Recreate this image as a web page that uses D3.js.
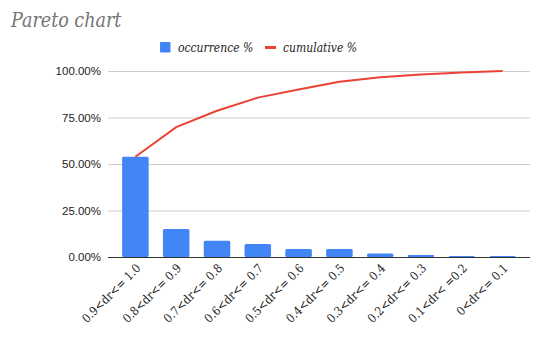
<!DOCTYPE html>
<html>
<head>
<meta charset="utf-8">
<script src="https://cdn.jsdelivr.net/npm/d3@7"></script>
<style>
  body { margin: 0; background: #fff; }
  svg { display: block; }
</style>
</head>
<body>
<div id="chart"></div>
<script>
// chart data
var categories = ['0.9<dr<= 1.0', '0.8<dr<= 0.9', '0.7<dr<= 0.8', '0.6<dr<= 0.7', '0.5<dr<= 0.6',
                  '0.4<dr<= 0.5', '0.3<dr<= 0.4', '0.2<dr<= 0.3', '0.1<dr< =0.2', '0<dr<= 0.1'];
var occurrence = [53.9, 15.0, 8.8, 7.0, 4.3, 4.3, 1.9, 1.1, 0.5, 0.5];
var cumulative = [53.9, 69.8, 78.6, 85.7, 90.0, 94.2, 96.7, 98.1, 99.2, 100];
var yTicks = [0, 25, 50, 75, 100];

var width = 550, height = 340;
var serif = '"DejaVu Serif Condensed", "DejaVu Serif", serif';
var svg = d3.select('#chart').append('svg')
    .attr('width', width)
    .attr('height', height);

var x = d3.scaleBand()
    .domain(categories)
    .range([115, 523])
    .paddingInner(0.35)
    .paddingOuter(0.175);

var y = d3.scaleLinear()
    .domain([0, 100])
    .range([257, 71]);

// title
svg.append('text')
    .attr('x', 11)
    .attr('y', 26.5)
    .style('font-family', serif)
    .style('font-style', 'italic')
    .style('font-size', '19.5px')
    .style('fill', '#757575')
    .text('Pareto chart');

// legend
var legend = svg.append('g').style('font-family', serif)
    .style('font-style', 'italic').style('font-size', '12px').style('fill', '#222');
legend.append('rect').attr('x', 160).attr('y', 42).attr('width', 10.5).attr('height', 10.5)
    .attr('rx', 1).attr('fill', '#4285f4');
legend.append('text').attr('x', 178).attr('y', 51.5).text('occurrence %');
legend.append('rect').attr('x', 265).attr('y', 46).attr('width', 11).attr('height', 3)
    .attr('fill', '#ea4335');
legend.append('text').attr('x', 283).attr('y', 51.5).text('cumulative %');

// gridlines + y axis labels
var yAxis = d3.axisLeft(y)
    .tickValues(yTicks)
    .tickSize(0)
    .tickPadding(7)
    .tickFormat(function(d) { return d.toFixed(2) + '%'; });

var gy = svg.append('g').attr('transform', 'translate(108,0)').call(yAxis);
gy.select('.domain').remove();
gy.selectAll('text')
    .style('font-family', '"Liberation Sans", Arial, sans-serif')
    .style('font-size', '11.5px')
    .style('fill', '#222');

svg.append('g').selectAll('line')
    .data(yTicks.filter(function(d) { return d > 0; }))
    .join('line')
    .attr('x1', 108).attr('x2', 530)
    .attr('y1', function(d) { return y(d) + 0.5; })
    .attr('y2', function(d) { return y(d) + 0.5; })
    .attr('stroke', '#cccccc')
    .attr('stroke-width', 1);

// bars
svg.append('g').selectAll('rect')
    .data(occurrence)
    .join('rect')
    .attr('x', function(d, i) { return x(categories[i]); })
    .attr('y', function(d) { return y(d); })
    .attr('width', x.bandwidth())
    .attr('height', function(d) { return y(0) - y(d); })
    .attr('rx', 1.5)
    .attr('fill', '#4285f4');

// baseline
svg.append('line')
    .attr('x1', 108).attr('x2', 530)
    .attr('y1', y(0) + 0.5).attr('y2', y(0) + 0.5)
    .attr('stroke', '#333').attr('stroke-width', 1);

// cumulative line
var line = d3.line()
    .x(function(d, i) { return x(categories[i]) + x.bandwidth() / 2; })
    .y(function(d) { return y(d); });

svg.append('path')
    .datum(cumulative)
    .attr('d', line)
    .attr('fill', 'none')
    .attr('stroke', '#ea4335')
    .attr('stroke-width', 2);

// x labels, rotated
var xAxis = d3.axisBottom(x).tickSize(0).tickPadding(0);
var gx = svg.append('g').attr('transform', 'translate(0,' + y(0) + ')').call(xAxis);
gx.select('.domain').remove();
gx.selectAll('text')
    .attr('text-anchor', 'end')
    .attr('dy', 0)
    .attr('y', 0)
    .attr('transform', 'translate(6,12) rotate(-45)')
    .style('font-family', serif)
    .style('font-size', '12px')
    .style('fill', '#222');
</script>
</body>
</html>
